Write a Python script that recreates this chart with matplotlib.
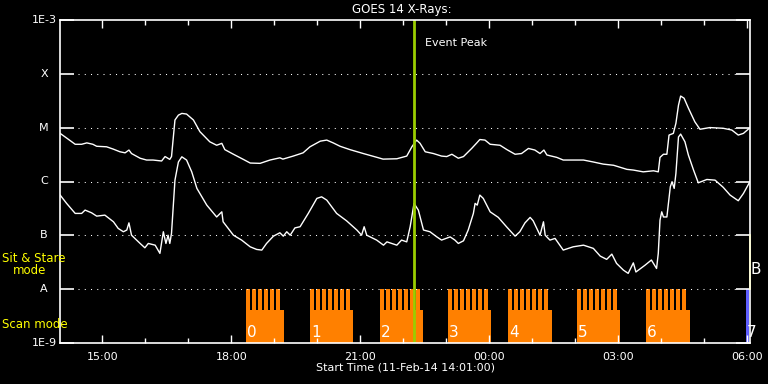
import matplotlib
matplotlib.use("Agg")
import matplotlib.pyplot as plt
import numpy as np

# ---------------- data ----------------
# time in hours since 11-Feb-14 00:00 (values > 24 are on 12-Feb)
t_start = 14 + 1/60
t_end = 30.063

long_t = [14.02, 14.17, 14.37, 14.52, 14.64, 14.78, 14.87, 15.10, 15.25, 15.41, 15.53, 15.62,
          15.68, 15.88, 16.03, 16.18, 16.38, 16.46, 16.57, 16.61, 16.69, 16.77, 16.85, 16.96,
          17.12, 17.27, 17.50, 17.66, 17.78, 17.85, 18.05, 18.28, 18.44, 18.67, 18.90, 19.13,
          19.20, 19.44, 19.67, 19.83, 20.07, 20.22, 20.37, 20.53, 20.76, 21.07, 21.39, 21.53,
          21.85, 22.08, 22.20, 22.31, 22.39, 22.51, 22.70, 22.89, 23.01, 23.13, 23.28, 23.40,
          23.59, 23.71, 23.78, 23.90, 24.02, 24.25, 24.41, 24.60, 24.75, 24.91, 25.06, 25.18,
          25.27, 25.34, 25.57, 25.72, 26.19, 26.42, 26.65, 26.89, 27.20, 27.35, 27.58, 27.82,
          27.93, 27.97, 28.05, 28.13, 28.18, 28.28, 28.34, 28.40, 28.45, 28.53, 28.63, 28.78,
          28.90, 29.13, 29.44, 29.64, 29.79, 29.91, 30.06]
long_f = [7.8e-6, 6.4e-6, 4.9e-6, 4.9e-6, 5.2e-6, 4.9e-6, 4.5e-6, 4.4e-6, 4.0e-6, 3.56e-6, 3.4e-6, 3.83e-6,
          3.3e-6, 2.7e-6, 2.5e-6, 2.5e-6, 2.4e-6, 2.9e-6, 2.57e-6, 2.9e-6, 1.38e-5, 1.7e-5, 1.83e-5, 1.78e-5,
          1.38e-5, 8.4e-6, 5.45e-6, 4.7e-6, 5.1e-6, 3.9e-6, 3.2e-6, 2.57e-6, 2.2e-6, 2.17e-6, 2.5e-6, 2.75e-6,
          2.6e-6, 2.96e-6, 3.4e-6, 4.4e-6, 5.6e-6, 5.86e-6, 5.2e-6, 4.5e-6, 3.9e-6, 3.3e-6, 2.8e-6, 2.6e-6,
          2.64e-6, 2.96e-6, 4.4e-6, 5.86e-6, 5.1e-6, 3.56e-6, 3.3e-6, 2.96e-6, 2.9e-6, 3.2e-6, 2.7e-6, 2.9e-6,
          4.1e-6, 5.2e-6, 6.0e-6, 5.86e-6, 4.9e-6, 4.7e-6, 3.9e-6, 3.2e-6, 3.3e-6, 4.1e-6, 3.83e-6, 3.3e-6,
          3.83e-6, 3.1e-6, 2.8e-6, 2.5e-6, 2.5e-6, 2.3e-6, 2.1e-6, 2.0e-6, 1.68e-6, 1.63e-6, 1.51e-6, 1.58e-6,
          1.51e-6, 2.8e-6, 3.2e-6, 3.2e-6, 7.26e-6, 7.8e-6, 1.2e-5, 2.6e-5, 3.84e-5, 3.5e-5, 2.3e-5, 1.28e-5,
          9.3e-6, 1.0e-5, 9.7e-6, 9.0e-6, 7.26e-6, 7.8e-6, 9.9e-6]

short_t = [14.02, 14.17, 14.37, 14.52, 14.60, 14.75, 14.87, 15.06, 15.26, 15.37, 15.49, 15.57,
           15.62, 15.68, 15.88, 15.99, 16.07, 16.23, 16.34, 16.42, 16.48, 16.53, 16.57, 16.61,
           16.69, 16.77, 16.85, 16.96, 17.08, 17.20, 17.43, 17.66, 17.78, 17.81, 18.05, 18.24,
           18.44, 18.59, 18.71, 18.82, 18.98, 19.13, 19.21, 19.29, 19.37, 19.48, 19.60, 19.79,
           19.99, 20.10, 20.22, 20.45, 20.68, 20.92, 21.03, 21.09, 21.15, 21.38, 21.54, 21.62,
           21.85, 21.96, 22.08, 22.16, 22.25, 22.35, 22.47, 22.62, 22.78, 22.89, 23.09, 23.20,
           23.28, 23.40, 23.51, 23.63, 23.67, 23.72, 23.78, 23.86, 24.02, 24.21, 24.40, 24.60,
           24.71, 24.83, 24.95, 25.02, 25.18, 25.26, 25.30, 25.41, 25.53, 25.72, 25.95, 26.19,
           26.42, 26.58, 26.73, 26.85, 26.96, 27.12, 27.23, 27.35, 27.41, 27.62, 27.77, 27.89,
           27.93, 27.97, 28.01, 28.05, 28.13, 28.21, 28.25, 28.30, 28.34, 28.40, 28.45, 28.55,
           28.63, 28.75, 28.86, 29.06, 29.25, 29.44, 29.60, 29.79, 29.91, 30.06]
short_f = [5.6e-7, 3.93e-7, 2.56e-7, 2.56e-7, 2.95e-7, 2.63e-7, 2.28e-7, 2.38e-7, 1.79e-7, 1.35e-7, 1.17e-7, 1.26e-7,
           1.71e-7, 1.01e-7, 7.1e-8, 5.9e-8, 7.1e-8, 6.6e-8, 4.65e-8, 1.17e-7, 7.1e-8, 1.01e-7, 7.1e-8, 1.1e-7,
           1.06e-6, 2.3e-6, 2.87e-6, 2.5e-6, 1.51e-6, 7.45e-7, 3.65e-7, 2.2e-7, 2.74e-7, 1.79e-7, 1.01e-7, 8.2e-8,
           6.15e-8, 5.5e-8, 5.35e-8, 7.1e-8, 9.7e-8, 1.12e-7, 9.7e-8, 1.17e-7, 1.01e-7, 1.38e-7, 1.45e-7, 2.56e-7,
           4.86e-7, 5.2e-7, 4.52e-7, 2.56e-7, 1.87e-7, 1.26e-7, 1.01e-7, 1.45e-7, 1.01e-7, 8.2e-8, 6.6e-8, 7.6e-8,
           6.6e-8, 8.2e-8, 7.6e-8, 1.45e-7, 3.93e-7, 2.95e-7, 1.26e-7, 1.17e-7, 9.4e-8, 8.2e-8, 9.4e-8, 8.2e-8,
           7.1e-8, 7.95e-8, 1.26e-7, 2.56e-7, 3.93e-7, 3.65e-7, 5.6e-7, 4.86e-7, 2.74e-7, 2.16e-7, 1.45e-7, 9.7e-8,
           1.17e-7, 1.71e-7, 2.16e-7, 1.87e-7, 1.01e-7, 1.79e-7, 1.01e-7, 8.2e-8, 8.8e-8, 5.35e-8, 6.15e-8, 6.6e-8,
           5.75e-8, 4.14e-8, 3.6e-8, 4.5e-8, 3.03e-8, 2.27e-8, 1.98e-8, 3.1e-8, 2.1e-8, 2.8e-8, 3.5e-8, 2.44e-8,
           4.65e-8, 1.92e-7, 2.74e-7, 2.2e-7, 2.2e-7, 8.0e-7, 9.9e-7, 7.45e-7, 1.41e-6, 6.7e-6, 7.57e-6, 5.45e-6,
           3.09e-6, 1.63e-6, 9.46e-7, 1.09e-6, 1.06e-6, 7.8e-7, 5.6e-7, 4.4e-7, 6.0e-7, 9.9e-7]

event_peak = 22.25

# scan-mode periods (hours since 11-Feb 00:00)
scan_start = [18.342, 19.831, 21.458, 23.040, 24.435, 26.040, 27.645]
scan_end = [19.226, 20.824, 22.452, 24.033, 25.452, 27.040, 28.668]
scan_steps = [6, 7, 7, 7, 7, 7, 7]
step_period = 0.1395
step_width = 0.097
last_start, last_end = 29.963, 30.047

level_vals = [1e-9, 1e-8, 1e-7, 1e-6, 1e-5, 1e-4, 1e-3]
level_labels = ["1E-9", "A", "B", "C", "M", "X", "1E-3"]

xtick_vals = [15, 18, 21, 24, 27, 30]
xtick_labels = ["15:00", "18:00", "21:00", "00:00", "03:00", "06:00"]

# ---------------- figure ----------------
W, H = 768, 384
fig = plt.figure(figsize=(W / 100, H / 100), dpi=100, facecolor="black")
x0, x1, ytop, ybot = 60, 750, 19.7, 343.3
ax = fig.add_axes([x0 / W, (H - ybot) / H, (x1 - x0) / W, (ybot - ytop) / H])
ax.set_facecolor("black")
ax.set_yscale("log")
ax.set_ylim(1e-9, 1e-3)
ax.set_xlim(t_start, t_end)

for s in ax.spines.values():
    s.set_color("white")
    s.set_linewidth(1.2)

ax.yaxis.set_minor_locator(matplotlib.ticker.NullLocator())
ax.set_yticks(level_vals)
ax.set_yticklabels([""] * len(level_vals))
ax.tick_params(axis="y", which="major", direction="in", length=10, width=1.2,
               color="white", left=True, right=True, labelleft=False)
for v, lab in zip(level_vals, level_labels):
    ax.text(-16 / 690, v, lab, transform=ax.get_yaxis_transform(), ha="center",
            va="center", color="white", fontsize=8)

ax.set_xticks(xtick_vals)
ax.set_xticklabels(xtick_labels)
ax.set_xticks(np.arange(15, 31), minor=True)
ax.tick_params(axis="x", which="major", direction="in", length=6, width=1,
               color="white", labelcolor="white", labelsize=8, top=True, bottom=True, pad=6)
ax.tick_params(axis="x", which="minor", direction="in", length=3.5, width=1,
               color="white", top=True, bottom=True)

# dotted grid at flare levels
for v in level_vals[1:-1]:
    ax.axhline(v, xmin=18 / 690, xmax=677 / 690, color="white", lw=0.75, ls=(0, (1, 5)))

# scan mode blocks
orange = "#ff8000"
for i, (s, e, n) in enumerate(zip(scan_start, scan_end, scan_steps)):
    ax.bar(s, 4.2e-9 - 1e-9, width=e - s, bottom=1e-9, align="edge", color=orange, linewidth=0)
    for k in range(n):
        ax.bar(s + k * step_period, 1e-8 - 1e-9, width=step_width, bottom=1e-9,
               align="edge", color=orange, linewidth=0)
    ax.text(s + 0.02, 1.62e-9, str(i), color="white", fontsize=11, ha="left", va="center")
ax.bar(last_start, 1e-8 - 1e-9, width=last_end - last_start, bottom=1e-9,
       align="edge", color="#5f5fff", linewidth=0)
ax.text(last_start + 0.02, 1.62e-9, "7", color="white", fontsize=11, ha="left",
        va="center", clip_on=False)

# curves
ax.plot(long_t, long_f, color="white", lw=1.0)
ax.plot(short_t, short_f, color="white", lw=1.0)

# event peak
ax.axvline(event_peak, color="#9acd00", lw=2.0)
ax.text(event_peak + 0.26, 3.7e-4, "Event Peak", color="white", fontsize=8,
        ha="left", va="center")

# sit & stare indicator on right edge
ax.plot([t_end, t_end], [1e-8, 1e-7], color="#ffff00", lw=1.2, clip_on=False)

# texts outside
fig.text(402 / W, (H - 10) / H, "GOES 14 X-Rays:", color="white", fontsize=8.5,
         ha="center", va="center")
fig.text(405 / W, (H - 368) / H, "Start Time (11-Feb-14 14:01:00)", color="white",
         fontsize=8, ha="center", va="center")
fig.text(2 / W, (H - 259) / H, "Sit & Stare", color="#ffff00", fontsize=8.5, ha="left", va="center")
fig.text(13 / W, (H - 271) / H, "mode", color="#ffff00", fontsize=8.5, ha="left", va="center")
fig.text(2 / W, (H - 324) / H, "Scan mode", color="#ffff00", fontsize=8.5, ha="left", va="center")
fig.text(751 / W, (H - 270) / H, "B", color="white", fontsize=11, ha="left", va="center")

fig.savefig("out.png", dpi=100, facecolor="black")
